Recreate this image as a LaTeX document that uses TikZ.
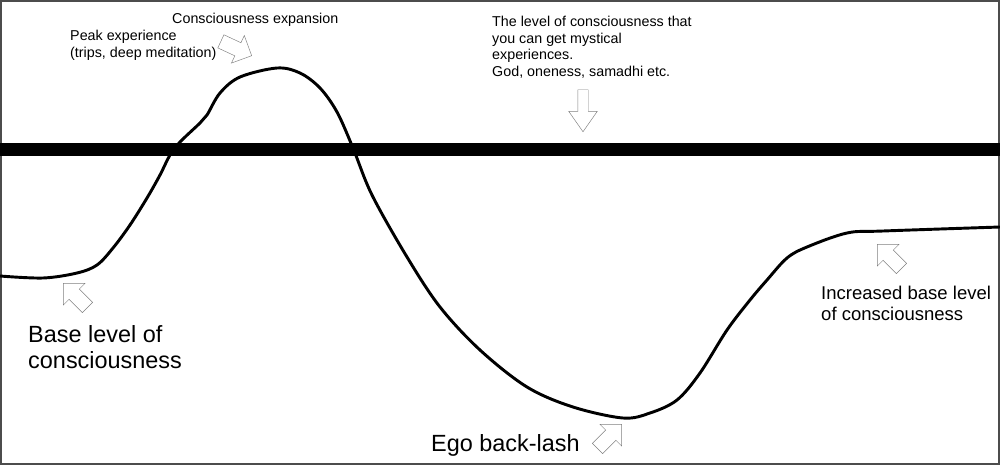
\documentclass[tikz,border=0pt]{standalone}
\usepackage{fontspec}
\setmainfont{Liberation Sans}
\usetikzlibrary{shapes.arrows}

\begin{document}
\begin{tikzpicture}[
  x=0.03cm, y=-0.03cm,
  note/.style={
    anchor=north west,
    inner sep=0pt,
    align=left,
    font=\fontsize{12.2}{14.2}\selectfont
  },
  bignote/.style={note, font=\fontsize{20}{22.5}\selectfont},
  midnote/.style={note, font=\fontsize{15.8}{17.5}\selectfont},
  hollow/.style={
    single arrow,
    draw=gray,
    line width=0.4pt,
    fill=white,
    inner sep=2.1mm,
    minimum height=10.2mm,
    single arrow head extend=2.4mm,
    single arrow head indent=0pt
  },
  curve/.style={line width=2.5pt, line join=round}
]

\useasboundingbox (0,0) rectangle (1000,465);

% frame and the mystical level bar
\draw[gray!60!black, line width=1.6pt] (1,1) rectangle (999,464);
\fill (0,143) rectangle (1000,156);

% level of consciousness over time
\draw[curve] plot[smooth, tension=0.55] coordinates {
  (0,276) (43,278) (77,273) (97,265) (113,248) (130,225) (147,198)
  (160,175) (170,155) (180,142) (200,123) (207,115) (220,93) (240,77)
  (277,68) (300,73) (320,88) (337,112) (353,148) (372,195)
  (407,257) (440,307) (480,350) (527,387) (573,407) (623,418)
  (650,413) (677,400) (700,373) (727,330) (750,300) (767,280)
  (787,258) (807,247) (847,233) (883,231) (1000,227)
};

% labels
\node[note] (expansion) at (172,13) {Consciousness expansion};
\node[note] (peak) at (70,30) {Peak experience\\(trips, deep meditation)};
\node[note] (mystical) at (492,16)
  {The level of consciousness that\\you can get mystical\\experiences.\\God, oneness, samadhi etc.};
\node[bignote] (base) at (28,325) {Base level of\\consciousness};
\node[bignote] (ego) at (431,434) {Ego back-lash};
\node[midnote] (increased) at (821,286) {Increased base level\\of consciousness};

% hollow pointers
\node[hollow, rotate=-25] (expansionarrow) at (233,47) {};
\node[hollow, rotate=-90, inner sep=1.5mm, minimum height=12.6mm,
  single arrow head extend=2.7mm, single arrow tip angle=70] (mysticalarrow) at (583,107) {};
\node[hollow, rotate=135] (basearrow) at (78,298) {};
\node[hollow, rotate=45] (egoarrow) at (607,439) {};
\node[hollow, rotate=135] (increasedarrow) at (892,259) {};

\end{tikzpicture}
\end{document}
